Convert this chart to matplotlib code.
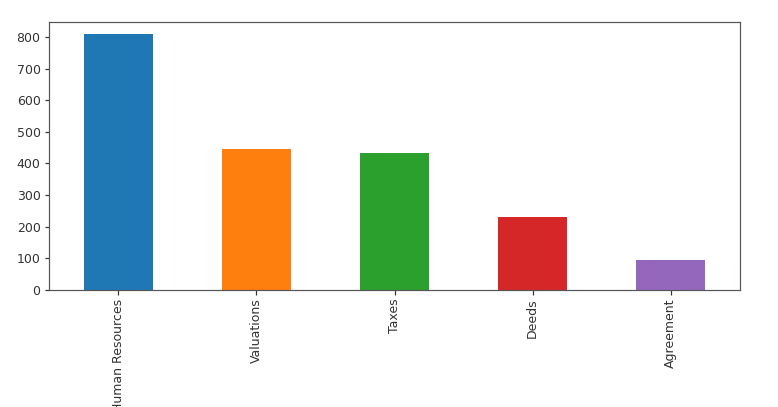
import matplotlib.pyplot as plt

categories = ['Human Resources', 'Valuations', 'Taxes', 'Deeds', 'Agreement']
counts = [809, 445, 434, 232, 95]
colors = ['#1f77b4', '#ff7f0e', '#2ca02c', '#d62728', '#9467bd']

fig = plt.figure(figsize=(778 / 72, 407 / 72), dpi=72)
ax = fig.add_axes([49 / 778, 1 - 290 / 407, (740 - 49) / 778, (290 - 22) / 407])

x = range(len(categories))
ax.bar(x, counts, width=0.5, color=colors)
ax.set_xlim(-0.5, len(categories) - 0.5)
ax.set_ylim(0, max(counts) * 1.047)
ax.set_xticks(list(x))
ax.set_xticklabels(categories, rotation=90)
ax.set_yticks(range(0, 801, 100))

for s in ax.spines.values():
    s.set_color('#555555')
    s.set_linewidth(1.2)
ax.tick_params(colors='#333333', labelsize=12.5, length=4.5, width=1.2, pad=4)

fig.savefig('out.png', dpi=72)
